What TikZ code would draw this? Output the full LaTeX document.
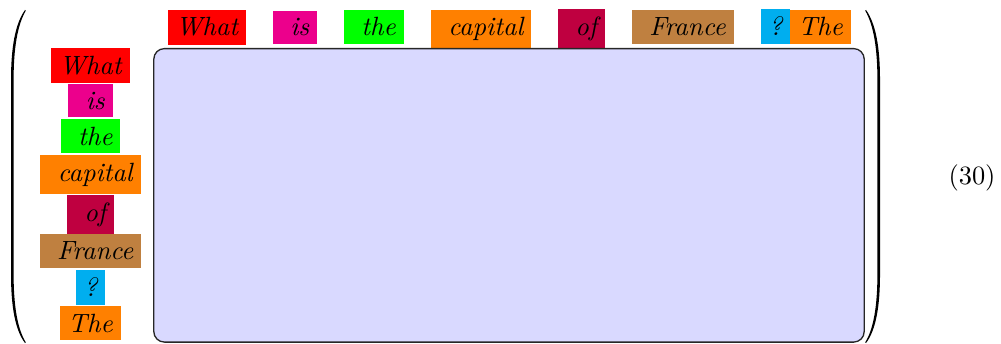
\documentclass[tikz,border=0pt]{standalone}
\usepackage{xcolor}
\usepackage{tikz}
\usetikzlibrary{positioning}
\definecolor{TokRed}{HTML}{FF0000}
\definecolor{TokMagenta}{HTML}{EC008C}
\definecolor{TokGreen}{HTML}{00FF00}
\definecolor{TokOrange}{HTML}{FF8000}
\definecolor{TokPurple}{HTML}{BF0040}
\definecolor{TokBrown}{HTML}{BF8040}
\definecolor{TokCyan}{HTML}{00AEEF}
\definecolor{AttnFill}{HTML}{D9D9FF}
\tikzset{
  rowtok/.style={
    inner sep=3pt,outer sep=0pt,font=\itshape,text=black,anchor=base west
  },
  coltok/.style={
    inner sep=3pt,outer sep=0pt,font=\itshape,text=black,anchor=north
  },
  attnbox/.style={
    draw=black!85,fill=AttnFill,rounded corners=4pt,line width=0.5pt,
    minimum width=9.452cm,minimum height=3.905cm,inner sep=0pt
  },
}

\begin{document}
\begin{tikzpicture}[x=0.013313cm, y=-0.013313cm]
  \useasboundingbox (0,0) rectangle (1001,344);
  % top row of tokens
  \node[rowtok, fill=TokRed] (t1) at (168, 36) {What};
  \node[rowtok, fill=TokMagenta] (t2) at (273, 36) {\ is};
  \node[rowtok, fill=TokGreen] (t3) at (344, 36) {\ the};
  \node[rowtok, fill=TokOrange] (t4) at (431, 36) {\ capital};
  \node[rowtok, fill=TokPurple] (t5) at (558, 36) {\ of};
  \node[rowtok, fill=TokBrown] (t6) at (632, 36) {\ France};
  \node[rowtok, fill=TokCyan] (t7) at (761, 36) {?};
  \node[rowtok, fill=TokOrange] (t8) at (t7.base east) {The};
  % left column of tokens
  \node[coltok, fill=TokRed] (l1) at (90.5, 48) {What};
  \node[coltok, fill=TokMagenta] (l2) at (90.5, 84) {\ is};
  \node[coltok, fill=TokGreen] (l3) at (90.5, 119) {\ the};
  \node[coltok, fill=TokOrange] (l4) at (90.5, 155) {\ capital};
  \node[coltok, fill=TokPurple] (l5) at (90.5, 195) {\ of};
  \node[coltok, fill=TokBrown] (l6) at (90.5, 234) {\ France};
  \node[coltok, fill=TokCyan] (l7) at (90.5, 270) {?};
  \node[coltok, fill=TokOrange] (l8) at (90.5, 306) {The};
  % matrix body
  \node[attnbox] (attn) at (509, 195.35) {};
  % parentheses
  \fill (25,10) .. controls (15,24) and (11,48) .. (11,80) -- (11,274)
    .. controls (11,306) and (15,330) .. (25,343) -- (25.8,342.4)
    .. controls (17.5,329) and (13.6,306) .. (13.6,274) -- (13.6,80)
    .. controls (13.6,48) and (17.5,25) .. (25.8,10.6) -- cycle;
  \fill (866,10) .. controls (876,24) and (880,48) .. (880,80) -- (880,274)
    .. controls (880,306) and (876,330) .. (866,343) -- (865.2,342.4)
    .. controls (873.5,329) and (877.4,306) .. (877.4,274) -- (877.4,80)
    .. controls (877.4,48) and (873.5,25) .. (865.2,10.6) -- cycle;
  \node[anchor=base east, inner sep=0pt] (eqno) at (996, 185) {(30)};
\end{tikzpicture}
\end{document}
